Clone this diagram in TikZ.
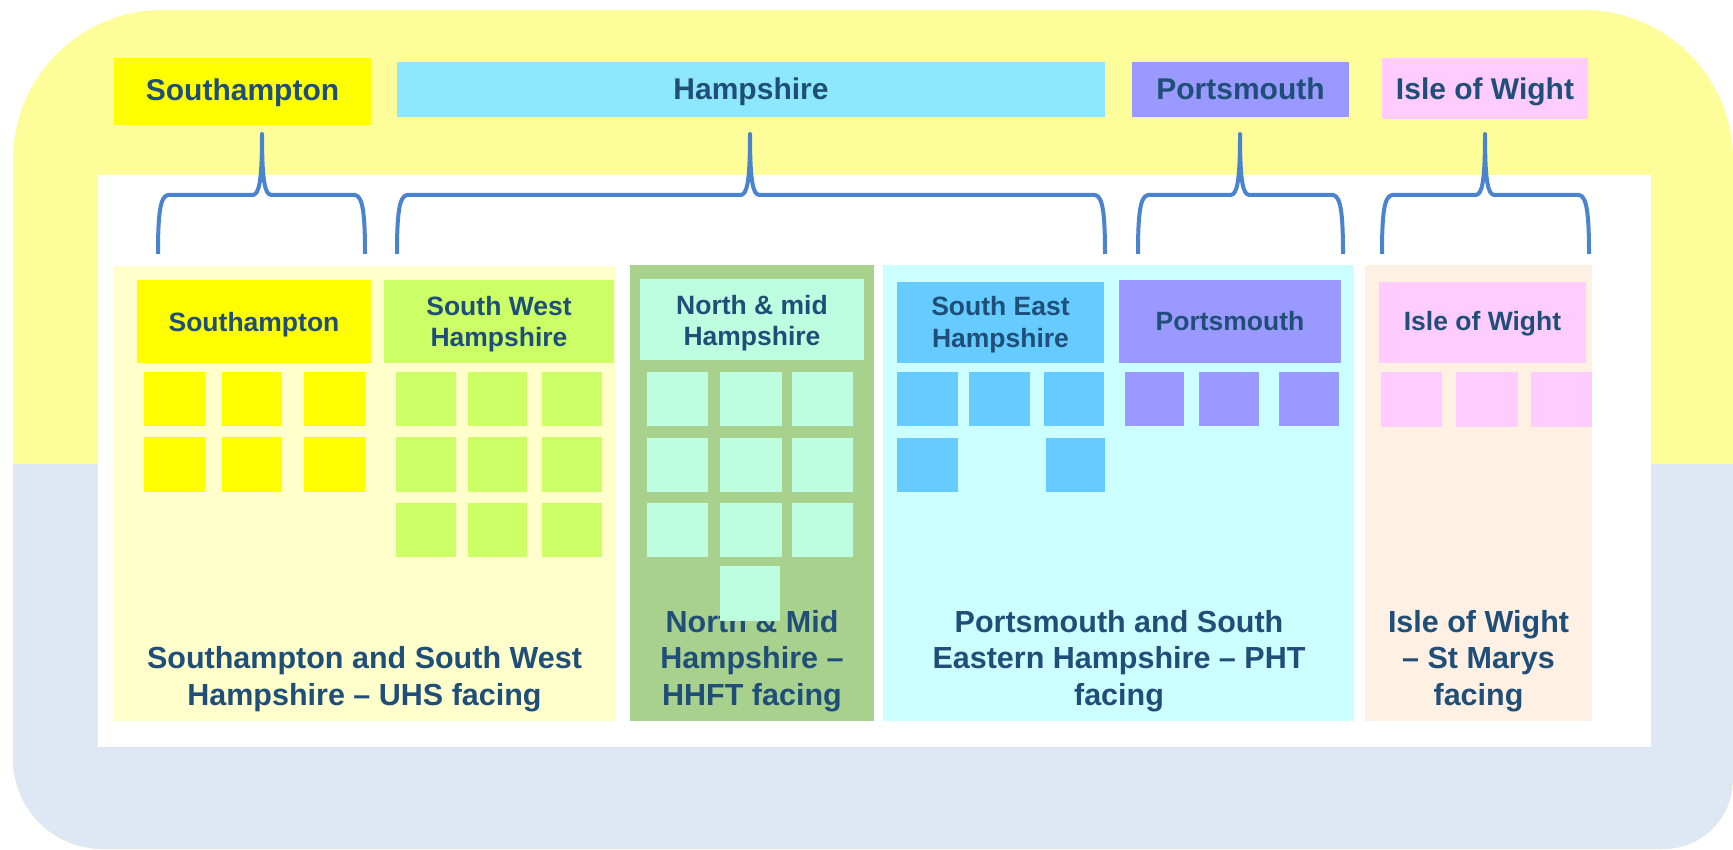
\documentclass[tikz,border=0pt]{standalone}
\usepackage{fontspec}
\setmainfont{Liberation Sans}
\definecolor{bgyellow}{HTML}{FDFD99}
\definecolor{bgblue}{HTML}{DDE8F4}
\definecolor{txt}{HTML}{1F4E79}
\definecolor{brace}{HTML}{4A84CE}
\definecolor{cyellow}{HTML}{FFFF00}
\definecolor{chants}{HTML}{8DE8FD}
\definecolor{cports}{HTML}{9999FF}
\definecolor{cpink}{HTML}{FFCCFF}
\definecolor{cpale}{HTML}{FFFFCC}
\definecolor{cgreen}{HTML}{CCFF66}
\definecolor{colive}{HTML}{A9D18E}
\definecolor{cmint}{HTML}{BDFDE0}
\definecolor{ccyan}{HTML}{CCFFFF}
\definecolor{cblue}{HTML}{66CCFF}
\definecolor{cpeach}{HTML}{FEF0E2}
\tikzset{
  bracestyle/.style={draw=brace, line width=4pt, line cap=butt, line join=round},
  toplab/.style={anchor=base, text=txt, font=\fontsize{30}{36}\selectfont\bfseries, inner sep=0pt},
  headlab/.style={anchor=base, text=txt, align=center, font=\fontsize{26.5}{32}\selectfont\bfseries, inner sep=0pt},
  botlab/.style={anchor=base, text=txt, align=center, font=\fontsize{30.5}{36.5}\selectfont\bfseries, inner sep=0pt},
}
\newcommand\regionbrace[3]{%
  \draw[bracestyle] (#1,254) .. controls (#1,215) and ({#1+2},196) .. ({#1+10},195)
    -- ({#3-9},195) .. controls ({#3-3},194) and (#3,182) .. (#3,134)
    .. controls (#3,182) and ({#3+3},194) .. ({#3+9},195)
    -- ({#2-10},195) .. controls ({#2-2},196) and (#2,215) .. (#2,254);}
\newcommand\sqbox[5]{\fill[#1] (#2,#4) rectangle (#3,#5);}
\begin{document}
\begin{tikzpicture}[x=1pt,y=-1pt]
\useasboundingbox (0,0) rectangle (1733,850);
% background
\def\bgpath{(13,160) .. controls (13,77) and (80,10) .. (163,10)
  -- (1583,10) .. controls (1666,10) and (1733,77) .. (1733,160)
  -- (1733,779) .. controls (1733,818) and (1702,849) .. (1663,849)
  -- (103,849) .. controls (53,849) and (13,809) .. (13,759) -- cycle}
\fill[bgyellow] \bgpath;
\begin{scope}
  \clip \bgpath;
  \fill[bgblue] (0,464) rectangle (1740,860);
\end{scope}
% white inner area
\fill[white] (98,175) rectangle (1651,747);
% top labels
\fill[cyellow] (114,58) rectangle (371,125);
\node[toplab] (tsoton) at (242.5,101) {Southampton};
\fill[chants] (397,62) rectangle (1105,117);
\node[toplab] (thants) at (751,100) {Hampshire};
\fill[cports] (1132,62) rectangle (1349,117);
\node[toplab] (tports) at (1240.5,100) {Portsmouth};
\fill[cpink] (1382,58) rectangle (1588,119);
\node[toplab] (tiow) at (1485,100) {Isle of Wight};
% braces
\regionbrace{158}{365}{262}
\regionbrace{397}{1105}{750}
\regionbrace{1138}{1343}{1240}
\regionbrace{1382}{1589}{1485}
% panels
\fill[cpale] (114,266) rectangle (615,721);
\fill[colive] (630,265) rectangle (874,721);
\fill[ccyan] (883,265) rectangle (1354,721);
\fill[cpeach] (1365,265) rectangle (1592,721);
% headers
\fill[cyellow] (137,280) rectangle (371,363);
\node[headlab] (hsoton) at (254,332) {Southampton};
\fill[cgreen] (384,280) rectangle (614,363);
\node[headlab] (hsw) at (499,347) {South West\\Hampshire};
\fill[cmint] (640,279) rectangle (864,360);
\node[headlab] (hnm) at (752,346) {North \& mid\\Hampshire};
\fill[cblue] (897,282) rectangle (1104,363);
\node[headlab] (hse) at (1000.5,348) {South East\\Hampshire};
\fill[cports] (1119,280) rectangle (1341,363);
\node[headlab] (hports) at (1230,331) {Portsmouth};
\fill[cpink] (1379,282) rectangle (1586,363);
\node[headlab] (hiow) at (1482.5,331) {Isle of Wight};
% squares: Southampton
\sqbox{cyellow}{144}{205}{372}{426}
\sqbox{cyellow}{222}{282}{372}{426}
\sqbox{cyellow}{304}{365}{372}{426}
\sqbox{cyellow}{144}{205}{437}{492}
\sqbox{cyellow}{222}{282}{437}{492}
\sqbox{cyellow}{304}{365}{437}{492}
% South West Hampshire
\sqbox{cgreen}{396}{456}{372}{426}
\sqbox{cgreen}{468}{527}{372}{426}
\sqbox{cgreen}{542}{602}{372}{426}
\sqbox{cgreen}{396}{456}{437}{492}
\sqbox{cgreen}{468}{527}{437}{492}
\sqbox{cgreen}{542}{602}{437}{492}
\sqbox{cgreen}{396}{456}{503}{557}
\sqbox{cgreen}{468}{527}{503}{557}
\sqbox{cgreen}{542}{602}{503}{557}
% North & mid Hampshire
\sqbox{cmint}{647}{708}{372}{426}
\sqbox{cmint}{720}{782}{372}{426}
\sqbox{cmint}{792}{853}{372}{426}
\sqbox{cmint}{647}{708}{438}{492}
\sqbox{cmint}{720}{782}{438}{492}
\sqbox{cmint}{792}{853}{438}{492}
\sqbox{cmint}{647}{708}{503}{557}
\sqbox{cmint}{720}{782}{503}{557}
\sqbox{cmint}{792}{853}{503}{557}
% South East Hampshire
\sqbox{cblue}{897}{958}{372}{426}
\sqbox{cblue}{969}{1030}{372}{426}
\sqbox{cblue}{1044}{1104}{372}{426}
\sqbox{cblue}{897}{958}{438}{492}
\sqbox{cblue}{1046}{1105}{438}{492}
% Portsmouth
\sqbox{cports}{1125}{1184}{372}{426}
\sqbox{cports}{1199}{1259}{372}{426}
\sqbox{cports}{1279}{1339}{372}{426}
% Isle of Wight
\sqbox{cpink}{1381}{1442}{372}{427}
\sqbox{cpink}{1456}{1518}{372}{427}
\sqbox{cpink}{1531}{1592}{372}{427}
% bottom labels
\node[botlab] (bsoton) at (364.5,705) {Southampton and South West\\Hampshire -- UHS facing};
\node[botlab] (bnm) at (752,705) {North \& Mid\\Hampshire --\\HHFT facing};
\sqbox{cmint}{720}{780}{566}{621}
\node[botlab] (bpht) at (1119,705) {Portsmouth and South\\Eastern Hampshire -- PHT\\facing};
\node[botlab] (biow) at (1478.5,705) {Isle of Wight\\-- St Marys\\facing};
\end{tikzpicture}
\end{document}
